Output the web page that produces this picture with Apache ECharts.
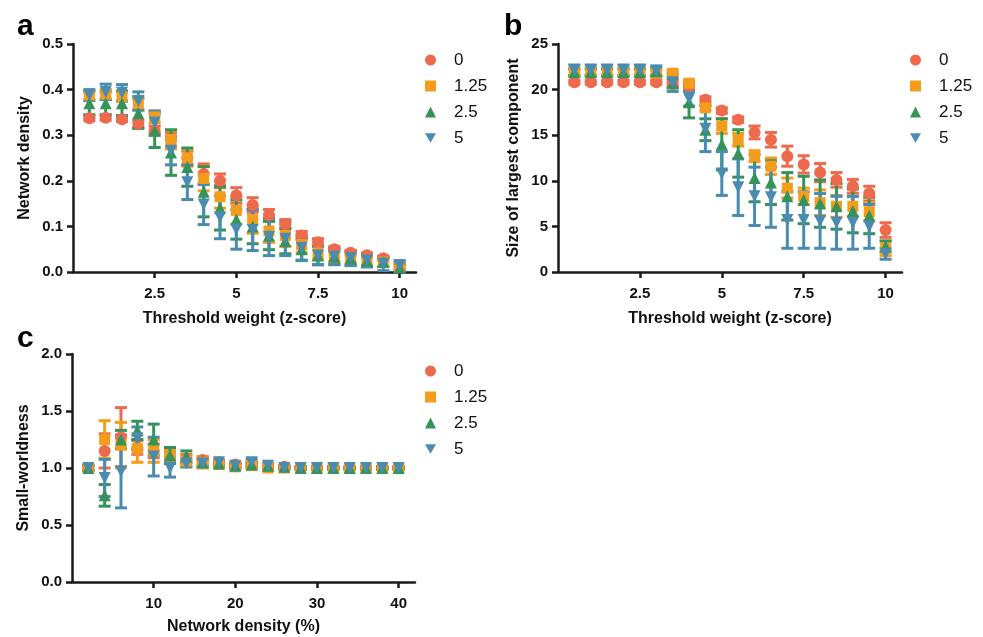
<!DOCTYPE html>
<html>
<head>
<meta charset="utf-8">
<script src="https://cdn.jsdelivr.net/npm/echarts@6/dist/echarts.min.js"></script>
<style>
html,body{margin:0;padding:0;background:#fff;}
#chart{width:983px;height:637px;}
</style>
</head>
<body>
<div id="chart"></div>
<script>
// ---------- data ----------
const seriesNames = ['0', '1.25', '2.5', '5'];
const thresholdX = [0.5,1,1.5,2,2.5,3,3.5,4,4.5,5,5.5,6,6.5,7,7.5,8,8.5,9,9.5,10];
const densityPctX = [2,4,6,8,10,12,14,16,18,20,22,24,26,28,30,32,34,36,38,40];
const thresholdTicks = [2.5, 5, 7.5, 10];
const densityTicks = [10, 20, 30, 40];

// panel a: network density
const aMean0 = [0.337,0.338,0.335,0.325,0.31,0.29,0.25,0.215,0.2,0.168,0.147,0.125,0.105,0.08,0.065,0.05,0.042,0.037,0.03,0.012];
const aErr0  = [0.005,0.005,0.005,0.008,0.01,0.015,0.015,0.022,0.015,0.017,0.016,0.012,0.01,0.009,0.008,0.006,0.005,0.005,0.005,0.005];
const aMean1 = [0.388,0.39,0.385,0.37,0.34,0.29,0.25,0.205,0.165,0.135,0.115,0.09,0.08,0.06,0.042,0.035,0.03,0.025,0.022,0.01];
const aErr1  = [0.01,0.01,0.01,0.015,0.013,0.02,0.018,0.027,0.025,0.03,0.03,0.025,0.024,0.018,0.015,0.012,0.01,0.01,0.01,0.008];
const aMean2 = [0.37,0.37,0.37,0.348,0.31,0.262,0.23,0.176,0.14,0.115,0.1,0.08,0.068,0.05,0.036,0.034,0.03,0.025,0.022,0.01];
const aErr2  = [0.025,0.025,0.027,0.033,0.037,0.05,0.042,0.055,0.048,0.043,0.038,0.031,0.028,0.024,0.02,0.017,0.015,0.013,0.01,0.008];
const aMean3 = [0.388,0.395,0.393,0.375,0.328,0.266,0.197,0.148,0.12,0.093,0.092,0.077,0.073,0.053,0.036,0.034,0.03,0.025,0.018,0.013];
const aErr3  = [0.012,0.017,0.018,0.02,0.025,0.031,0.038,0.044,0.047,0.043,0.045,0.041,0.037,0.028,0.02,0.018,0.016,0.014,0.015,0.012];

// panel b: size of largest component
const bMean0 = [20.8,20.8,20.8,20.8,20.8,20.8,20.6,20.4,18.9,17.7,16.7,15.3,14.5,12.7,11.8,10.9,10.1,9.4,8.6,4.6];
const bErr0  = [0.2,0.2,0.2,0.2,0.2,0.2,0.3,0.3,0.3,0.3,0.3,0.7,0.8,1.1,0.95,1.0,0.8,0.75,0.8,0.8];
const bMean1 = [21.9,21.9,21.9,21.9,21.9,21.8,21.8,20.7,18.0,16.0,14.5,12.7,11.6,9.2,8.3,7.6,7.2,7.2,6.6,2.6];
const bErr1  = [0.3,0.3,0.3,0.3,0.3,0.3,0.3,0.3,0.3,0.8,0.7,0.6,0.9,1.1,0.9,1.4,1.2,1.1,1.0,0.8];
const bMean2 = [21.9,21.9,21.9,21.9,21.9,22.0,20.7,18.6,15.6,14.0,13.0,10.3,9.8,8.3,7.9,7.5,7.2,6.7,6.2,2.8];
const bErr2  = [0.4,0.4,0.4,0.4,0.4,0.4,0.5,1.7,1.2,2.8,2.6,2.6,2.4,2.6,2.6,2.6,2.5,2.4,2.0,0.6];
const bMean3 = [22.1,22.1,22.1,22.1,22.1,22.0,20.8,19.0,15.7,10.8,9.3,8.3,8.2,5.7,5.7,5.6,5.4,5.4,5.0,2.0];
const bErr3  = [0.6,0.6,0.6,0.6,0.6,0.6,1.0,0.8,2.5,2.4,3.1,3.2,3.3,3.1,3.1,3.0,2.9,2.9,2.4,0.6];

// panel c: small-worldness
const cMean0 = [1.0,1.15,1.27,1.18,1.15,1.1,1.08,1.07,1.05,1.03,1.03,1.02,1.01,1.0,1.0,1.0,1.0,1.0,1.0,1.0];
const cErr0  = [0.02,0.15,0.26,0.06,0.06,0.04,0.04,0.03,0.02,0.02,0.02,0.01,0.01,0.01,0.01,0.01,0.01,0.01,0.01,0.01];
const cMean1 = [1.0,1.25,1.2,1.17,1.15,1.1,1.06,1.05,1.03,1.01,1.02,1.0,1.0,1.0,1.0,1.0,1.0,1.0,1.0,1.0];
const cErr1  = [0.02,0.165,0.2,0.12,0.1,0.06,0.05,0.05,0.02,0.02,0.03,0.02,0.01,0.01,0.01,0.01,0.01,0.01,0.01,0.01];
const cMean2 = [1.0,0.76,1.25,1.33,1.25,1.11,1.1,1.05,1.04,1.02,1.03,1.02,1.01,1.0,1.0,1.0,1.0,1.0,1.0,1.0];
const cErr2  = [0.02,0.095,0.08,0.08,0.135,0.07,0.05,0.03,0.02,0.02,0.02,0.02,0.01,0.01,0.01,0.01,0.01,0.01,0.01,0.01];
const cMean3 = [1.0,0.913,0.97,1.26,1.1,1.0,1.04,1.04,1.05,1.02,1.05,1.02,1.0,1.0,1.0,1.0,1.0,1.0,1.0,1.0];
const cErr3  = [0.02,0.163,0.32,0.1,0.17,0.08,0.03,0.03,0.02,0.02,0.03,0.02,0.01,0.01,0.01,0.01,0.01,0.01,0.01,0.01];

// ---------- styling ----------
const colors = ['#EE6A4C', '#F59C1A', '#35935A', '#4A8BB0'];
const invTri = 'path://M0,0L10,0L5,8.66Z';
const symbols = ['circle', 'rect', 'triangle', invTri];
const symbolSizes = [12, 11, 12, 12];
const FONT = '"Liberation Sans", Arial, Helvetica, sans-serif';
const AXIS_COLOR = '#1a1a1a';

function errRender(params, api) {
  const x = api.value(0), m = api.value(1), e = api.value(2);
  const hi = api.coord([x, m + e]);
  const lo = api.coord([x, m - e]);
  const color = api.visual('color');
  const cw = 6;
  const st = { stroke: color, lineWidth: 3 };
  return {
    type: 'group',
    children: [
      { type: 'line', shape: { x1: hi[0], y1: hi[1], x2: lo[0], y2: lo[1] }, style: st },
      { type: 'line', shape: { x1: hi[0] - cw, y1: hi[1], x2: hi[0] + cw, y2: hi[1] }, style: st },
      { type: 'line', shape: { x1: lo[0] - cw, y1: lo[1], x2: lo[0] + cw, y2: lo[1] }, style: st }
    ]
  };
}

function makeSeries(idx, xs, means, errs) {
  const out = [];
  for (let k = 0; k < 4; k++) {
    const data = xs.map((x, i) => [x, means[k][i], errs[k][i]]);
    out.push({
      type: 'custom', name: seriesNames[k], xAxisIndex: idx, yAxisIndex: idx,
      itemStyle: { color: colors[k] }, renderItem: errRender,
      encode: { x: 0, y: 1 }, data: data, silent: true, clip: false
    });
    out.push({
      type: 'scatter', name: seriesNames[k], xAxisIndex: idx, yAxisIndex: idx,
      symbol: symbols[k], symbolSize: symbolSizes[k],
      itemStyle: { color: colors[k], opacity: 1 },
      data: xs.map((x, i) => [x, means[k][i]]), silent: true
    });
  }
  return out;
}

function xAxisDef(idx, min, max, ticks, name, gap) {
  return {
    type: 'value', gridIndex: idx, min: min, max: max,
    name: name, nameLocation: 'middle', nameGap: gap,
    nameTextStyle: { fontFamily: FONT, fontWeight: 'bold', fontSize: 16, color: '#111' },
    axisLine: { show: true, onZero: false, lineStyle: { color: AXIS_COLOR, width: 2.5 } },
    axisTick: { show: true, length: 6, customValues: ticks, lineStyle: { color: AXIS_COLOR, width: 2.5 } },
    axisLabel: { customValues: ticks, margin: 14, fontFamily: FONT, fontWeight: 'bold', fontSize: 15, color: '#111',
      formatter: v => String(v) },
    splitLine: { show: false }
  };
}
function yAxisDef(idx, min, max, interval, dec, name, gap) {
  return {
    type: 'value', gridIndex: idx, min: min, max: max, interval: interval,
    name: name, nameLocation: 'middle', nameGap: gap,
    nameTextStyle: { fontFamily: FONT, fontWeight: 'bold', fontSize: 16, color: '#111' },
    axisLine: { show: true, onZero: false, lineStyle: { color: AXIS_COLOR, width: 2.5 } },
    axisTick: { show: true, length: 6, lineStyle: { color: AXIS_COLOR, width: 2.5 } },
    axisLabel: { margin: 10, fontFamily: FONT, fontWeight: 'bold', fontSize: 15, color: '#111',
      formatter: v => v.toFixed(dec) },
    splitLine: { show: false }
  };
}
function legendDef(left, top) {
  return {
    orient: 'vertical', left: left, top: top,
    itemWidth: 11, itemHeight: 11, itemGap: 6,
    selectedMode: false,
    textStyle: { fontFamily: FONT, fontSize: 17, color: '#111', lineHeight: 20, padding: [0, 0, 0, 13] },
    data: seriesNames.map((n, k) => ({ name: n, icon: symbols[k], itemStyle: { color: colors[k] } }))
  };
}
const letterStyle = { fontFamily: FONT, fontWeight: 'bold', fontSize: 30, color: '#000' };

const option = {
  animation: false,
  backgroundColor: '#fff',
  title: [
    { text: 'a', left: 12, top: 7, textStyle: letterStyle },
    { text: 'b', left: 499, top: 7, textStyle: letterStyle },
    { text: 'c', left: 12, top: 319, textStyle: letterStyle }
  ],
  legend: [legendDef(420, 45), legendDef(905, 45), legendDef(420, 356)],
  grid: [
    { left: 73, top: 44, width: 343, height: 228 },
    { left: 558, top: 44, width: 344, height: 228 },
    { left: 72, top: 354, width: 343, height: 228 }
  ],
  xAxis: [
    xAxisDef(0, 0, 10.5, thresholdTicks, 'Threshold weight (z-score)', 39),
    xAxisDef(1, 0, 10.5, thresholdTicks, 'Threshold weight (z-score)', 39),
    xAxisDef(2, 0, 42, densityTicks, 'Network density (%)', 37)
  ],
  yAxis: [
    yAxisDef(0, 0, 0.5, 0.1, 1, 'Network density', 40),
    yAxisDef(1, 0, 25, 5, 0, 'Size of largest component', 36),
    yAxisDef(2, 0, 2, 0.5, 1, 'Small-worldness', 40)
  ],
  series: [].concat(
    makeSeries(0, thresholdX, [aMean0, aMean1, aMean2, aMean3], [aErr0, aErr1, aErr2, aErr3]),
    makeSeries(1, thresholdX, [bMean0, bMean1, bMean2, bMean3], [bErr0, bErr1, bErr2, bErr3]),
    makeSeries(2, densityPctX, [cMean0, cMean1, cMean2, cMean3], [cErr0, cErr1, cErr2, cErr3])
  )
};

const chart = echarts.init(document.getElementById('chart'), null, { renderer: 'canvas' });
chart.setOption(option);
</script>
</body>
</html>
